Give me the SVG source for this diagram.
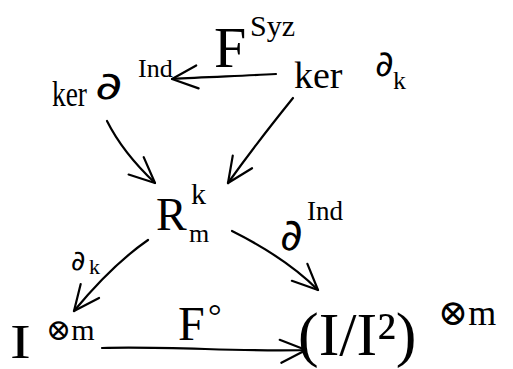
<svg xmlns="http://www.w3.org/2000/svg" width="513" height="369" viewBox="0 0 513 369">
  <style>
    text { font-family: "Liberation Serif", "DejaVu Serif", serif; fill: #000; }
    .d { font-family: "DejaVu Sans", "Liberation Sans", sans-serif; }
    .edge { fill: none; stroke: #000; stroke-width: 2.2; stroke-linecap: round; stroke-linejoin: round; }
  </style>
  <defs>
    <marker id="head" viewBox="-30 -15 34 30" refX="0" refY="0" markerWidth="34" markerHeight="30" markerUnits="userSpaceOnUse" orient="auto">
      <path d="M -26 -11 L 0 0 L -25 12" fill="none" stroke="#000" stroke-width="2.2" stroke-linecap="round" stroke-linejoin="round"/>
    </marker>
  </defs>
  <rect width="513" height="369" fill="#fff"/>

  <!-- connectors with their labels -->
  <g id="connectors">
    <path class="edge" d="M 276 74 C 240 76, 205 77, 172 79" marker-end="url(#head)"/>
    <text x="214" y="67" font-size="58">F</text>
    <text x="250" y="36" font-size="30">Syz</text>

    <path class="edge" d="M 107 121 C 118 143, 136 165, 155 183" marker-end="url(#head)"/>
    <path class="edge" d="M 293 98 C 272 124, 248 155, 228 183" marker-end="url(#head)"/>

    <path class="edge" d="M 148 240 C 122 258, 98 282, 74 311" marker-end="url(#head)"/>
    <text class="d" x="71" y="270" font-size="28">∂</text>
    <text x="89" y="274" font-size="22">k</text>

    <path class="edge" d="M 232 231 C 262 246, 294 266, 318 290" marker-end="url(#head)"/>
    <text class="d" x="280" y="250" font-size="44">∂</text>
    <text x="307" y="220" font-size="27">Ind</text>

    <path class="edge" d="M 102 348 C 170 346, 240 352, 306 350" marker-end="url(#head)"/>
    <text x="178" y="340" font-size="48">F</text>
    <text x="208" y="327" font-size="34">°</text>
  </g>

  <!-- ker ∂^Ind -->
  <g id="ker-ind">
    <text x="52" y="106" font-size="36" textLength="35" lengthAdjust="spacingAndGlyphs">ker</text>
    <text class="d" transform="translate(95 99) scale(1.4 1)" font-size="38">∂</text>
    <text x="138" y="77" font-size="26">Ind</text>
  </g>

  <!-- ker ∂_k -->
  <g id="ker-dk">
    <text x="294" y="88" font-size="38">ker</text>
    <text class="d" x="375" y="76" font-size="36">∂</text>
    <text x="393" y="89" font-size="26">k</text>
  </g>

  <!-- R^k_m -->
  <g id="r-km">
    <text x="156" y="230" font-size="46">R</text>
    <text x="191" y="204" font-size="30">k</text>
    <text x="189" y="242" font-size="26">m</text>
  </g>

  <!-- I^⊗m -->
  <g id="i-tensor">
    <text transform="translate(10 358) scale(1.3 1)" font-size="48">I</text>
    <text x="46" y="340" font-size="30">⊗m</text>
  </g>

  <!-- (I/I²)^⊗m -->
  <g id="quotient">
    <text x="298" y="355" font-size="62">(I/I²)</text>
    <text x="438" y="325" font-size="36">⊗m</text>
  </g>
</svg>
